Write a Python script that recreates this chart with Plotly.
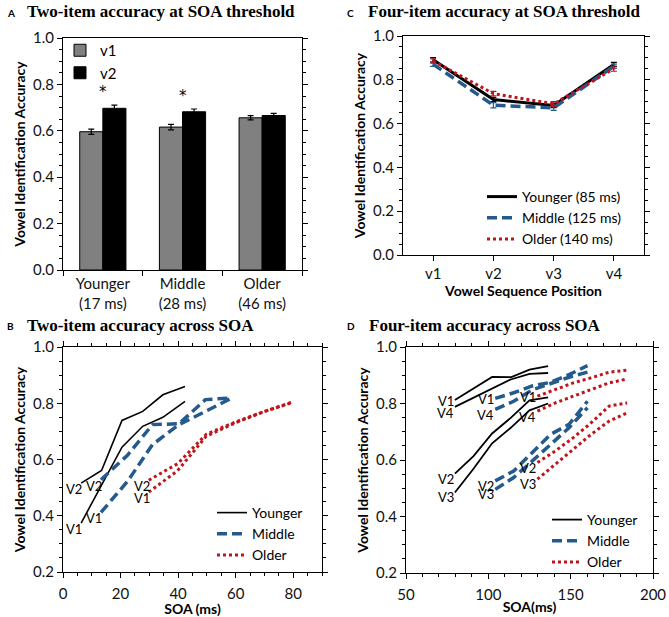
import plotly.graph_objects as go

W, H = 669, 617

# ---------------- data ----------------
# Panel A: two-item accuracy at SOA threshold
groups = ["Younger<br>(17 ms)", "Middle<br>(28 ms)", "Older<br>(46 ms)"]
a_v1 = [0.596, 0.616, 0.656]
a_v1_err = [0.011, 0.012, 0.009]
a_v2 = [0.697, 0.682, 0.666]
a_v2_err = [0.014, 0.012, 0.009]
a_sig = ["*", "*", ""]

# Panel C: four-item accuracy at SOA threshold
positions = ["v1", "v2", "v3", "v4"]
c_young = [0.891, 0.710, 0.683, 0.870]
c_young_err = [0.010, 0.010, 0.010, 0.010]
c_middle = [0.871, 0.684, 0.672, 0.862]
c_middle_err = [0.010, 0.012, 0.012, 0.010]
c_older = [0.886, 0.737, 0.690, 0.851]
c_older_err = [0.010, 0.010, 0.010, 0.012]
c_names = ["Younger (85 ms)", "Middle (125 ms)", "Older (140 ms)"]

# Panel B: two-item accuracy across SOA
b_young_soa = [6.3, 13.4, 20.5, 27.7, 34.7, 42.4]
b_young_v1 = [0.374, 0.510, 0.644, 0.718, 0.750, 0.807]
b_young_v2 = [0.516, 0.561, 0.739, 0.771, 0.830, 0.860]
b_middle_soa = [13.2, 22.4, 31.1, 40.3, 49.5, 58.7]
b_middle_v1 = [0.412, 0.522, 0.653, 0.724, 0.771, 0.819]
b_middle_v2 = [0.528, 0.615, 0.724, 0.727, 0.813, 0.819]
b_older_soa = [29.8, 39.8, 49.8, 59.8, 69.8, 79.8]
b_older_v1 = [0.484, 0.560, 0.683, 0.730, 0.770, 0.803]
b_older_v2 = [0.526, 0.585, 0.690, 0.733, 0.770, 0.805]

# Panel D: four-item accuracy across SOA
d_young_soa = [79.7, 91.0, 102.3, 113.6, 125.0, 136.3]
d_young_v1 = [0.812, 0.852, 0.894, 0.893, 0.920, 0.932]
d_young_v2 = [0.552, 0.614, 0.694, 0.749, 0.811, 0.822]
d_young_v3 = [0.485, 0.569, 0.659, 0.714, 0.776, 0.800]
d_young_v4 = [0.788, 0.820, 0.852, 0.885, 0.905, 0.908]
d_middle_soa = [104.2, 115.4, 126.6, 137.8, 149.0, 160.2]
d_middle_v1 = [0.818, 0.838, 0.862, 0.875, 0.902, 0.934]
d_middle_v2 = [0.526, 0.561, 0.626, 0.691, 0.726, 0.808]
d_middle_v3 = [0.496, 0.538, 0.596, 0.655, 0.714, 0.785]
d_middle_v4 = [0.779, 0.808, 0.848, 0.872, 0.893, 0.911]
d_older_soa = [129.8, 140.7, 151.6, 162.5, 173.4, 184.3]
d_older_v1 = [0.826, 0.849, 0.873, 0.891, 0.911, 0.918]
d_older_v2 = [0.591, 0.632, 0.679, 0.732, 0.791, 0.802]
d_older_v3 = [0.532, 0.585, 0.638, 0.691, 0.738, 0.767]
d_older_v4 = [0.773, 0.802, 0.826, 0.849, 0.873, 0.887]

group_names = ["Younger", "Middle", "Older"]

# ---------------- styles ----------------
SANS = "Lato"
SERIF = "Liberation Serif"
BLACK = "#000000"
BLUE = "#255a8c"
RED = "#c0141c"
label_dy = {"V1": -1, "V4": -6, "V2": -5, "V3": -5}

def px_x(p):
    return p / W

def px_y(p):
    return 1 - p / H

fig = go.Figure()

# Panel A bars
fig.add_trace(go.Bar(x=groups, y=a_v1, name="v1", marker=dict(color="#808080", line=dict(color=BLACK, width=1)),
                     error_y=dict(type="data", array=a_v1_err, color=BLACK, thickness=1.2, width=3),
                     xaxis="x", yaxis="y", legend="legend"))
fig.add_trace(go.Bar(x=groups, y=a_v2, name="v2", marker=dict(color=BLACK, line=dict(color=BLACK, width=1)),
                     error_y=dict(type="data", array=a_v2_err, color=BLACK, thickness=1.2, width=3),
                     xaxis="x", yaxis="y", legend="legend"))

# Panel C lines
c_series = [(c_young, c_young_err, BLACK, "solid", 3),
            (c_middle, c_middle_err, BLUE, "10px,5px", 3.5),
            (c_older, c_older_err, RED, "3px,3px", 3)]
for (vals, err, col, dash, lw), nm in zip(c_series, c_names):
    fig.add_trace(go.Scatter(x=positions, y=vals, mode="lines", name=nm,
                             line=dict(color=col, dash=dash, width=lw),
                             error_y=dict(type="data", array=err, color=col, thickness=1.2, width=3),
                             xaxis="x2", yaxis="y2", legend="legend2"))

# Panel B lines
b_sets = [(b_young_soa, [("V1", b_young_v1), ("V2", b_young_v2)], BLACK, "solid", 1.6),
          (b_middle_soa, [("V1", b_middle_v1), ("V2", b_middle_v2)], BLUE, "10px,5px", 3.5),
          (b_older_soa, [("V1", b_older_v1), ("V2", b_older_v2)], RED, "3px,3px", 3)]
for (soa, lines, col, dash, lw), gname in zip(b_sets, group_names):
    for i, (lab, vals) in enumerate(lines):
        fig.add_trace(go.Scatter(x=soa, y=vals, mode="lines", name=gname, showlegend=(i == 0),
                                 line=dict(color=col, dash=dash, width=lw),
                                 xaxis="x3", yaxis="y3", legend="legend3"))
        fig.add_annotation(x=soa[0], y=vals[0], xref="x3", yref="y3", text=lab, showarrow=False,
                           xanchor="right", yanchor="middle", xshift=3, yshift=-6,
                           font=dict(family=SANS, size=13, color=BLACK))

# Panel D lines
d_sets = [(d_young_soa, [("V1", d_young_v1), ("V4", d_young_v4), ("V2", d_young_v2), ("V3", d_young_v3)], BLACK, "solid", 1.8),
          (d_middle_soa, [("V1", d_middle_v1), ("V4", d_middle_v4), ("V2", d_middle_v2), ("V3", d_middle_v3)], BLUE, "10px,5px", 3.5),
          (d_older_soa, [("V1", d_older_v1), ("V4", d_older_v4), ("V2", d_older_v2), ("V3", d_older_v3)], RED, "3px,3px", 3)]
for (soa, lines, col, dash, lw), gname in zip(d_sets, group_names):
    for i, (lab, vals) in enumerate(lines):
        fig.add_trace(go.Scatter(x=soa, y=vals, mode="lines", name=gname, showlegend=(i == 0),
                                 line=dict(color=col, dash=dash, width=lw),
                                 xaxis="x4", yaxis="y4", legend="legend4"))
        fig.add_annotation(x=soa[0], y=vals[0], xref="x4", yref="y4", text=lab, showarrow=False,
                           xanchor="right", yanchor="middle", xshift=1, yshift=label_dy[lab],
                           font=dict(family=SANS, size=13, color=BLACK))

# significance asterisks (panel A)
for g, v, e, s in zip(groups, a_v2, a_v2_err, a_sig):
    if s:
        fig.add_annotation(x=g, y=v + e, xref="x", yref="y", text=s, showarrow=False,
                           yanchor="bottom", yshift=2, font=dict(family="DejaVu Sans", size=15, color=BLACK))

# ---------------- axes ----------------
tickfont = dict(family=SANS, size=15, color="#111111")
titlefont = dict(family=SANS, size=14, color=BLACK, weight="bold")

def yax(domain, rng, dtick, anchor, title):
    return dict(domain=domain, range=rng, dtick=dtick, tickformat=".1f", anchor=anchor, automargin=False,
                showgrid=False, zeroline=False, showline=True, linecolor=BLACK, linewidth=1,
                mirror="ticks", ticks="outside", ticklen=5, tickcolor=BLACK, tickwidth=1,
                minor=dict(dtick=0.05, ticks="outside", ticklen=3, tickcolor=BLACK, tickwidth=1),
                tickfont=tickfont, title=dict(text=title, font=titlefont, standoff=4))

layout = dict(
    width=W, height=H, paper_bgcolor="white", plot_bgcolor="white",
    margin=dict(l=0, r=0, t=0, b=0),
    barmode="group", bargap=0.42, bargroupgap=0.0,
    font=dict(family=SANS, size=14, color=BLACK),
    # Panel A
    xaxis=dict(domain=[px_x(63), px_x(302)], anchor="y", type="category", range=[-0.5, 2.5], automargin=False,
               showline=True, linecolor=BLACK, linewidth=1, mirror=True, showgrid=False,
               ticks="outside", tickson="boundaries", ticklen=5, tickcolor=BLACK,
               tickfont=tickfont),
    yaxis=yax([px_y(270), px_y(38)], [0, 1.0], 0.2, "x", "Vowel Identification Accuracy"),
    # Panel C
    xaxis2=dict(domain=[px_x(403), px_x(644)], anchor="y2", type="category", range=[-0.5, 3.5], automargin=False,
                showline=True, linecolor=BLACK, linewidth=1, mirror=True, showgrid=False,
                ticks="outside", ticklen=5, tickcolor=BLACK, tickfont=tickfont,
                title=dict(text="Vowel Sequence Position", font=titlefont, standoff=0)),
    yaxis2=yax([px_y(255), px_y(36)], [0, 1.0], 0.2, "x2", "Vowel Identification Accuracy"),
    # Panel B
    xaxis3=dict(domain=[px_x(63), px_x(322)], anchor="y3", range=[0, 90], dtick=20, automargin=False,
                showline=True, linecolor=BLACK, linewidth=1, mirror="ticks", showgrid=False, zeroline=False,
                ticks="outside", ticklen=5, tickcolor=BLACK, tickfont=tickfont, ticklabelstandoff=3,
                minor=dict(dtick=5, ticks="outside", ticklen=3, tickcolor=BLACK),
                title=dict(text="SOA (ms)", font=titlefont, standoff=0)),
    yaxis3=yax([px_y(572), px_y(347)], [0.2, 1.0], 0.2, "x3", "Vowel Identification Accuracy"),
    # Panel D
    xaxis4=dict(domain=[px_x(406), px_x(653)], anchor="y4", range=[50, 200], dtick=50, automargin=False,
                showline=True, linecolor=BLACK, linewidth=1, mirror="ticks", showgrid=False, zeroline=False,
                ticks="outside", ticklen=5, tickcolor=BLACK, tickfont=tickfont, ticklabelstandoff=3,
                minor=dict(dtick=10, ticks="outside", ticklen=3, tickcolor=BLACK),
                title=dict(text="SOA(ms)", font=titlefont, standoff=0)),
    yaxis4=yax([px_y(573), px_y(347)], [0.2, 1.0], 0.2, "x4", "Vowel Identification Accuracy"),
    # legends
    legend=dict(x=px_x(60), y=px_y(34), xanchor="left", yanchor="top", bgcolor="rgba(0,0,0,0)",
                font=dict(family=SANS, size=15, color=BLACK), itemwidth=30, tracegroupgap=0),
    legend2=dict(x=px_x(482), y=px_y(181), xanchor="left", yanchor="top", bgcolor="rgba(0,0,0,0)",
                 font=dict(family=SANS, size=14, color=BLACK), tracegroupgap=0),
    legend3=dict(x=px_x(212), y=px_y(497), xanchor="left", yanchor="top", bgcolor="rgba(0,0,0,0)",
                 font=dict(family=SANS, size=14, color=BLACK), tracegroupgap=0),
    legend4=dict(x=px_x(547), y=px_y(504), xanchor="left", yanchor="top", bgcolor="rgba(0,0,0,0)",
                 font=dict(family=SANS, size=14, color=BLACK), tracegroupgap=0),
)
fig.update_layout(**layout)

# panel titles
titles = [("A", "Two-item accuracy at SOA threshold", 5, 25, 12),
          ("C", "Four-item accuracy at SOA threshold", 345, 366, 12),
          ("B", "Two-item accuracy across SOA", 5, 25, 325),
          ("D", "Four-item accuracy across SOA", 345, 367, 325)]
for letter, text, lx, tx, ty in titles:
    fig.add_annotation(x=px_x(lx), y=px_y(ty + 1), xref="paper", yref="paper", text=letter, showarrow=False,
                       xanchor="left", yanchor="middle", font=dict(family=SANS, size=10, color=BLACK, weight="bold"))
    fig.add_annotation(x=px_x(tx), y=px_y(ty), xref="paper", yref="paper", text=text, showarrow=False,
                       xanchor="left", yanchor="middle", font=dict(family=SERIF, size=17, color=BLACK, weight="bold"))

fig.write_html("out.html", config={"displayModeBar": False},
               post_script="document.body.style.margin='0';document.body.style.overflow='hidden';")
